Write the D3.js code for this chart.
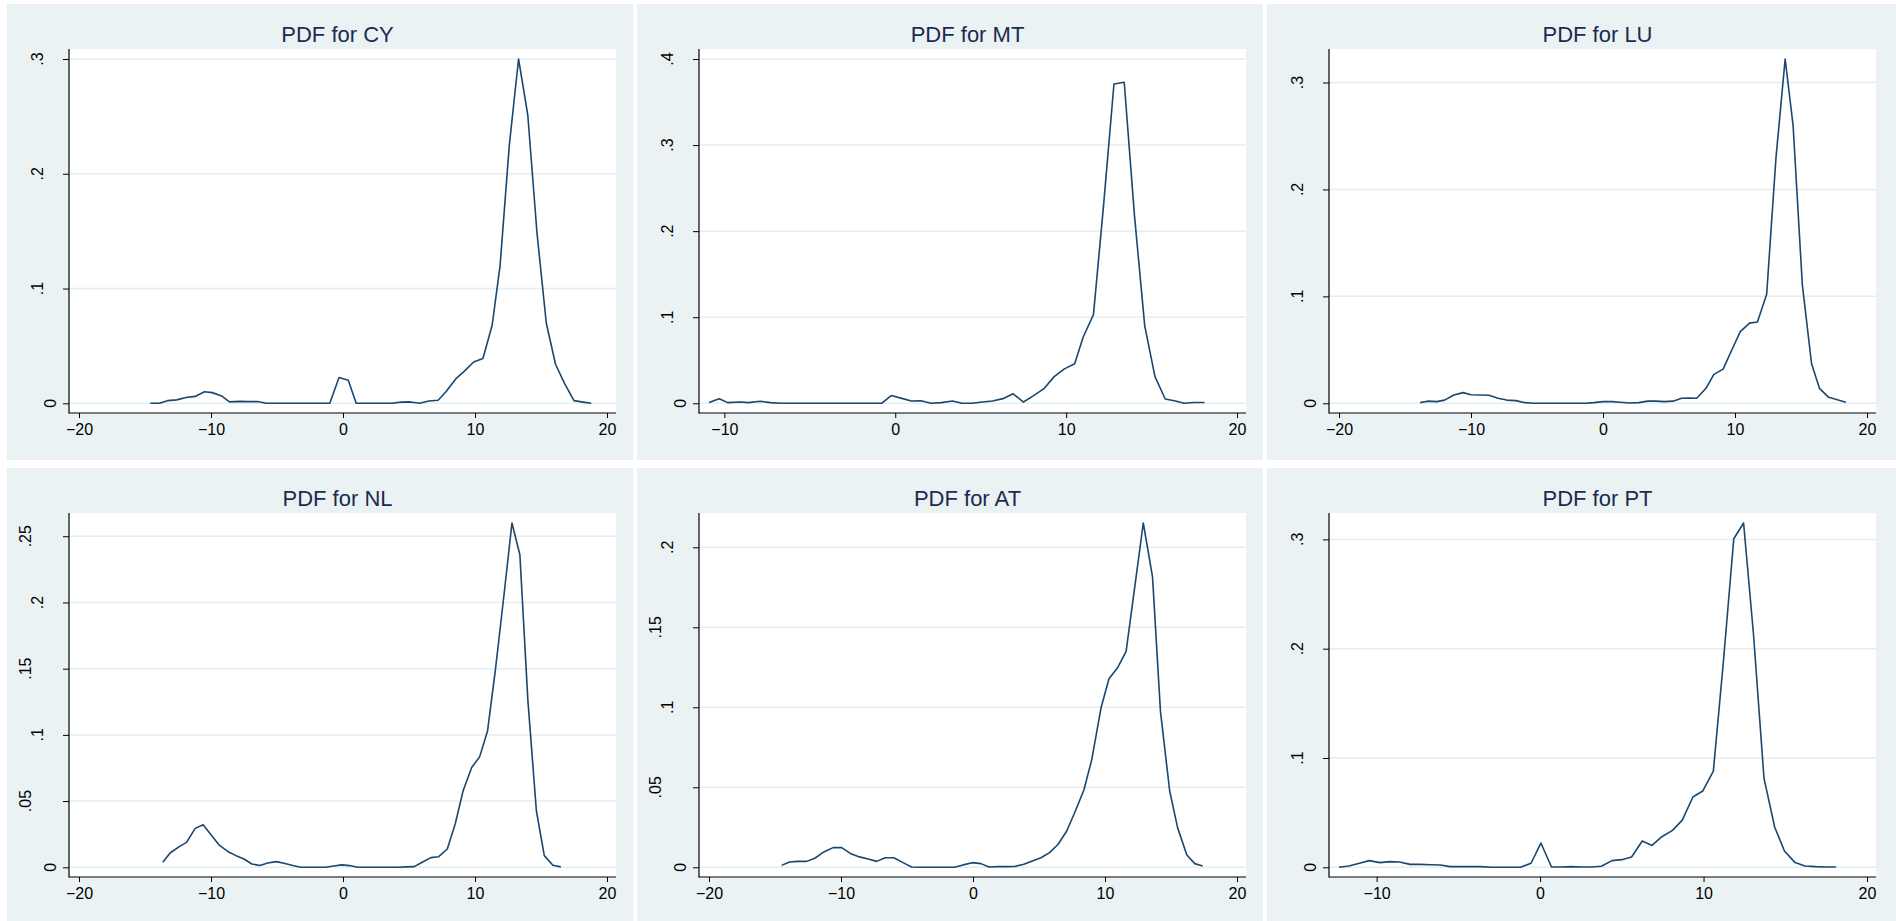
<!DOCTYPE html>
<html><head><meta charset="utf-8">
<script src="https://cdn.jsdelivr.net/npm/d3@7"></script>
<style>
body{margin:0;background:#fff}
svg{display:block}
text{font-family:"Liberation Sans",Arial,Helvetica,sans-serif}
</style>
</head><body>
<svg id="chart" width="1896" height="921"></svg>
<script>
// ---------- data ----------
const titles = ["PDF for CY","PDF for MT","PDF for LU","PDF for NL","PDF for AT","PDF for PT"];

const cyX = [-14.6,-13.9,-13.3,-12.6,-11.9,-11.2,-10.5,-9.9,-9.2,-8.6,-7.8,-7.2,-6.5,-5.8,-1.0,-0.3,0.4,1.0,3.7,4.4,5.1,5.8,6.5,7.2,7.8,8.6,9.2,9.9,10.6,11.3,11.9,12.6,13.3,14.0,14.7,15.4,16.1,16.8,17.5,18.2,18.8];
const cyY = [0,0,0.0023,0.003,0.005,0.006,0.010,0.0093,0.0064,0.0012,0.0017,0.0015,0.0015,0,0,0.0224,0.020,0,0,0.001,0.0012,0,0.002,0.0026,0.010,0.022,0.028,0.036,0.039,0.068,0.120,0.225,0.300,0.251,0.148,0.070,0.034,0.017,0.0023,0.001,0];

const mtX = [-10.9,-10.3,-9.8,-9.1,-8.6,-7.9,-7.3,-6.7,-0.8,-0.24,0.33,0.94,1.5,2.1,2.7,3.35,3.9,4.5,5.1,5.7,6.3,6.9,7.5,8.1,8.7,9.3,9.9,10.5,11.0,11.6,12.2,12.8,13.4,14.0,14.6,15.2,15.8,16.4,16.9,17.5,18.1];
const mtY = [0.001,0.0054,0.0008,0.0015,0.0008,0.0023,0.0008,0,0,0.009,0.006,0.0027,0.003,0,0.0008,0.0027,0,0,0.0015,0.0027,0.0054,0.011,0.0015,0.009,0.017,0.031,0.040,0.046,0.077,0.103,0.232,0.371,0.373,0.218,0.090,0.031,0.005,0.0027,0,0.001,0.001];

const luX = [-13.85,-13.3,-12.6,-12.0,-11.3,-10.6,-10.0,-9.3,-8.65,-7.95,-7.3,-6.6,-5.9,-5.3,-1.3,-0.7,0,0.7,1.3,2.0,2.7,3.4,4.0,4.65,5.3,5.95,6.6,7.1,7.8,8.4,9.1,9.8,10.4,11.1,11.7,12.4,13.1,13.8,14.4,15.1,15.8,16.4,17.1,17.75,18.4];
const luY = [0.0006,0.002,0.0016,0.003,0.0078,0.010,0.008,0.0078,0.0075,0.0047,0.003,0.0025,0.0006,0,0,0.0006,0.0016,0.0016,0.001,0.0003,0.0006,0.002,0.002,0.0016,0.002,0.0047,0.005,0.0047,0.014,0.027,0.032,0.051,0.067,0.075,0.076,0.102,0.229,0.322,0.260,0.111,0.037,0.014,0.0056,0.0034,0.001];

const nlX = [-13.65,-13.1,-12.4,-11.85,-11.2,-10.6,-10.0,-9.4,-8.7,-8.1,-7.5,-6.9,-6.3,-5.7,-5.05,-4.4,-3.8,-3.2,-1.35,-0.7,-0.1,0.5,1.1,4.2,4.8,5.4,6.0,6.65,7.25,7.9,8.5,9.1,9.75,10.35,10.95,11.55,12.2,12.8,13.4,14.0,14.65,15.25,15.9,16.5];
const nlY = [0.0038,0.0108,0.0156,0.0188,0.0294,0.0322,0.0246,0.017,0.0118,0.0088,0.0063,0.0025,0.0013,0.0033,0.0043,0.0028,0.0013,0,0,0.001,0.0018,0.0013,0,0,0.0003,0.0005,0.0038,0.0073,0.008,0.0138,0.0327,0.0578,0.0754,0.0834,0.103,0.1495,0.206,0.260,0.236,0.127,0.0427,0.0088,0.0015,0.0003];

const atX = [-14.5,-13.9,-13.3,-12.6,-11.95,-11.3,-10.6,-9.95,-9.3,-8.6,-7.95,-7.3,-6.65,-6.0,-5.3,-4.65,-4.0,-1.4,-0.75,-0.05,0.6,1.2,1.9,2.55,3.2,3.85,4.5,5.15,5.8,6.45,7.1,7.7,8.4,9.0,9.7,10.3,10.95,11.6,12.25,12.9,13.6,14.2,14.9,15.5,16.2,16.8,17.4];
const atY = [0.0012,0.0033,0.0037,0.0037,0.0058,0.0096,0.0123,0.0123,0.0087,0.0065,0.0052,0.0037,0.006,0.006,0.0029,0.0002,0,0,0.0015,0.0029,0.0023,0.0002,0.0004,0.0004,0.0006,0.0019,0.004,0.006,0.0092,0.0144,0.0227,0.0341,0.0483,0.0674,0.0997,0.1178,0.1247,0.135,0.175,0.2152,0.1815,0.0976,0.0477,0.0248,0.0077,0.0023,0.0008];

const ptX = [-12.3,-11.7,-11.05,-10.45,-9.8,-9.2,-8.6,-7.95,-7.35,-6.7,-6.1,-5.5,-4.9,-4.25,-3.65,-3.0,-1.2,-0.55,0.05,0.7,1.3,1.9,2.5,3.15,3.75,4.4,5.0,5.6,6.25,6.85,7.45,8.1,8.7,9.35,9.95,10.6,11.2,11.85,12.45,13.05,13.7,14.35,14.95,15.6,16.2,16.85,17.45,18.1];
const ptY = [0,0.0012,0.0037,0.0061,0.0043,0.0052,0.0049,0.0027,0.0027,0.0024,0.0021,0.0006,0.0006,0.0006,0.0006,0,0,0.0037,0.0222,0.0003,0.0003,0.0006,0.0003,0.0003,0.0009,0.0061,0.007,0.0094,0.024,0.020,0.028,0.0338,0.0432,0.0643,0.0698,0.088,0.1855,0.3006,0.315,0.2144,0.0813,0.0369,0.0149,0.0043,0.0012,0.0006,0.0003,0.0003];

// tick values
const cyXTicks = [-20,-10,0,10,20], cyYTicks = [0,0.1,0.2,0.3];
const mtXTicks = [-10,0,10,20],     mtYTicks = [0,0.1,0.2,0.3,0.4];
const luXTicks = [-20,-10,0,10,20], luYTicks = [0,0.1,0.2,0.3];
const nlXTicks = [-20,-10,0,10,20], nlYTicks = [0,0.05,0.1,0.15,0.2,0.25];
const atXTicks = [-20,-10,0,10,20], atYTicks = [0,0.05,0.1,0.15,0.2];
const ptXTicks = [-10,0,10,20],     ptYTicks = [0,0.1,0.2,0.3];

const panels = [
  {title: titles[0], xs: cyX, ys: cyY, xt: cyXTicks, yt: cyYTicks},
  {title: titles[1], xs: mtX, ys: mtY, xt: mtXTicks, yt: mtYTicks},
  {title: titles[2], xs: luX, ys: luY, xt: luXTicks, yt: luYTicks},
  {title: titles[3], xs: nlX, ys: nlY, xt: nlXTicks, yt: nlYTicks},
  {title: titles[4], xs: atX, ys: atY, xt: atXTicks, yt: atYTicks},
  {title: titles[5], xs: ptX, ys: ptY, xt: ptXTicks, yt: ptYTicks}
];

// ---------- layout ----------
const BG = "#eaf2f3", GRID = "#e4edf0", LINE = "#1a476f", TITLE = "#1c2b4f";
const colX = [7, 637, 1267];
const rowY = [4, 468];
const panelW = 626, panelH = 456;
const TICKFONT = 16;

const svg = d3.select("#chart");
svg.append("rect").attr("width",1896).attr("height",921).attr("fill","#fff");

const fmtY = d => d === 0 ? "0" : d3.format("")(d).replace(/^0/, "");

panels.forEach((p, i) => {
  const bx = colX[i % 3], by = rowY[Math.floor(i / 3)];
  const w = (i % 3 === 2) ? 1896 - bx : panelW;
  const g = svg.append("g");
  g.append("rect").attr("x", bx).attr("y", by).attr("width", w).attr("height", panelH).attr("fill", BG);

  const L = bx + 62, R = bx + 609, T = by + 45, B = by + 409;
  g.append("rect").attr("x", L).attr("y", T).attr("width", R - L).attr("height", B - T).attr("fill", "#fff");

  const data = p.xs.map((x, k) => ({x, y: p.ys[k]})).filter(d => d.y !== undefined);
  const xMin = Math.min(d3.min(p.xs), d3.min(p.xt));
  const xMax = Math.max(d3.max(p.xs), d3.max(p.xt));
  const yMax = Math.max(d3.max(p.ys), d3.max(p.yt));
  const x = d3.scaleLinear().domain([xMin, xMax]).range([L + 10, R - 9]);
  const y = d3.scaleLinear().domain([0, yMax]).range([B - 9.7, T + 10]);

  // gridlines
  g.append("g").selectAll("line").data(p.yt).join("line")
    .attr("x1", L).attr("x2", R)
    .attr("y1", d => y(d)).attr("y2", d => y(d))
    .attr("stroke", GRID).attr("stroke-width", 1.5);

  // curve
  g.append("path").datum(data)
    .attr("d", d3.line().x(d => x(d.x)).y(d => y(d.y)))
    .attr("fill", "none").attr("stroke", LINE).attr("stroke-width", 1.6)
    .attr("stroke-linejoin", "round");

  // x axis
  const xa = g.append("g").attr("transform", `translate(0,${B})`)
    .call(d3.axisBottom(x).tickValues(p.xt).tickSize(5).tickPadding(6).tickFormat(d3.format("")));
  xa.select(".domain").remove();
  xa.selectAll(".tick line").attr("stroke", "#000").attr("stroke-width", 1);
  xa.selectAll(".tick text").attr("font-size", TICKFONT).attr("fill", "#000")
    .attr("font-family", '"Liberation Sans", Arial, sans-serif');

  // y axis
  const ya = g.append("g").attr("transform", `translate(${L},0)`)
    .call(d3.axisLeft(y).tickValues(p.yt).tickSize(6).tickFormat(""));
  ya.select(".domain").remove();
  ya.selectAll(".tick line").attr("stroke", "#000").attr("stroke-width", 1);

  g.append("g").selectAll("text").data(p.yt).join("text")
    .attr("transform", d => {
      const lab = fmtY(d);
      const cx = L - 19 - (lab.length - 1) * 12.5;
      return `translate(${cx},${y(d)}) rotate(-90)`;
    })
    .attr("text-anchor", "middle").attr("dominant-baseline", "central")
    .attr("font-size", TICKFONT).attr("fill", "#000")
    .text(d => fmtY(d));

  // axis lines
  g.append("line").attr("x1", L).attr("x2", L).attr("y1", T).attr("y2", B + 0.5)
    .attr("stroke", "#000").attr("stroke-width", 1.2);
  g.append("line").attr("x1", L).attr("x2", R).attr("y1", B).attr("y2", B)
    .attr("stroke", "#000").attr("stroke-width", 1.2);

  // title
  g.append("text").attr("x", (L + R) / 2 - 5).attr("y", by + 38)
    .attr("text-anchor", "middle").attr("font-size", 22).attr("fill", TITLE)
    .text(p.title);
});
</script>
</body></html>
